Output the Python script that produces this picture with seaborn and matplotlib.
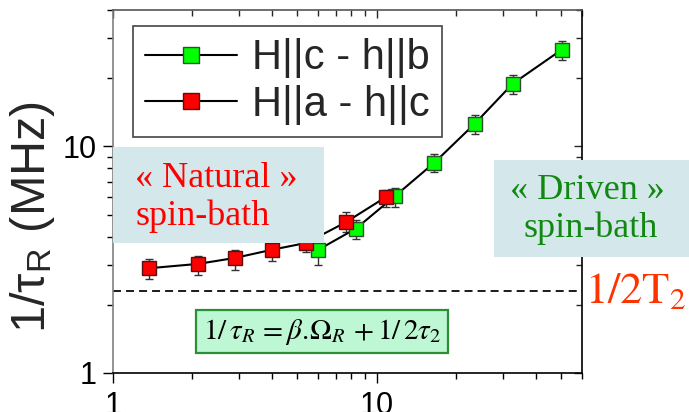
import numpy as np
import matplotlib
matplotlib.use("Agg")
import matplotlib.pyplot as plt
from matplotlib.patches import Rectangle
from matplotlib.ticker import FixedLocator, FuncFormatter, LogLocator, NullFormatter
import seaborn as sns

# ---- data -------------------------------------------------------------
# H||c - h||b  (driven regime)
green_x = [6.0, 8.33, 11.7, 16.5, 23.5, 32.7, 50.1]
green_y = [3.50, 4.34, 6.03, 8.47, 12.6, 18.9, 26.7]
green_lo = [3.00, 3.92, 5.41, 7.70, 11.4, 17.0, 24.0]
green_hi = [3.85, 4.75, 6.56, 9.22, 13.7, 20.6, 29.2]

# H||a - h||c  (natural regime)
red_x = [1.37, 2.10, 2.90, 4.01, 5.40, 7.61, 10.8]
red_y = [2.90, 3.03, 3.22, 3.50, 3.75, 4.62, 5.97]
red_lo = [2.61, 2.71, 2.86, 3.13, 3.41, 4.20, 5.41]
red_hi = [3.17, 3.30, 3.50, 3.81, 4.05, 5.12, 6.45]

half_T2 = 2.29          # 1/2T2 level (MHz)
series_labels = ["H||c - h||b", "H||a - h||c"]
x_ticks = [1, 10]
y_ticks = [1, 10]

# ---- style ------------------------------------------------------------
sns.set_theme(style="ticks")
plt.rcParams["font.family"] = ["Liberation Sans", "DejaVu Sans"]
plt.rcParams["mathtext.fontset"] = "stix"

fig = plt.figure(figsize=(6.89, 4.12), dpi=100)
ax = fig.add_axes([0.164, 0.0947, 0.681, 0.881])
ax.set_xscale("log")
ax.set_yscale("log")

# error bars first, markers on top
ax.errorbar(green_x, green_y,
            yerr=[np.subtract(green_y, green_lo), np.subtract(green_hi, green_y)],
            fmt="none", ecolor="#333333", elinewidth=1, capsize=3, capthick=1, zorder=2)
ax.errorbar(red_x, red_y,
            yerr=[np.subtract(red_y, red_lo), np.subtract(red_hi, red_y)],
            fmt="none", ecolor="#333333", elinewidth=1, capsize=3, capthick=1, zorder=2)

sns.lineplot(x=green_x, y=green_y, ax=ax, color="black", lw=1.5, marker="s",
             markersize=9.5, markerfacecolor="#00ff00", markeredgecolor="#2f4f2f",
             markeredgewidth=1, label=series_labels[0], zorder=3)
sns.lineplot(x=red_x, y=red_y, ax=ax, color="black", lw=1.5, marker="s",
             markersize=9.5, markerfacecolor="#ff0000", markeredgecolor="#5a1010",
             markeredgewidth=1, label=series_labels[1], zorder=3)

# 1/2T2 reference level
ax.axhline(half_T2, color="black", lw=1.25, ls=(0, (4.6, 2.9)), zorder=1)
ax.annotate(r"$\mathrm{1/2T_2}$", xy=(1.0, half_T2), xycoords=("axes fraction", "data"),
            xytext=(2, -8), textcoords="offset points", ha="left", va="baseline",
            fontsize=32, color="#ff3300", annotation_clip=False)

# ---- axes -------------------------------------------------------------
ax.set_xlim(1, 60)
ax.set_ylim(1, 40)
ax.xaxis.set_major_locator(FixedLocator(x_ticks))
ax.yaxis.set_major_locator(FixedLocator(y_ticks))
ax.xaxis.set_minor_locator(LogLocator(base=10, subs=np.arange(2, 10)))
ax.yaxis.set_minor_locator(LogLocator(base=10, subs=np.arange(2, 10)))
fmt = FuncFormatter(lambda v, _: f"{v:g}")
ax.xaxis.set_major_formatter(fmt)
ax.yaxis.set_major_formatter(fmt)
ax.xaxis.set_minor_formatter(NullFormatter())
ax.yaxis.set_minor_formatter(NullFormatter())
ax.tick_params(which="major", direction="out", length=7, width=1, labelsize=22,
               color="black", labelcolor="black")
ax.tick_params(which="minor", direction="out", length=4, width=1, color="black")
ax.tick_params(axis="x", which="major", pad=6)
ax.tick_params(axis="y", which="major", pad=5)

for side in ("top", "right", "bottom", "left"):
    ax.spines[side].set_visible(True)
    ax.spines[side].set_linewidth(1.2)
ax.spines["left"].set_color("#808080")
ax.spines["top"].set_color("#555555")
ax.spines["right"].set_color("black")
ax.spines["bottom"].set_color("black")

# inward mirror ticks on top and right
top = ax.secondary_xaxis("top")
top.xaxis.set_major_locator(FixedLocator(x_ticks))
top.xaxis.set_minor_locator(LogLocator(base=10, subs=np.arange(2, 10)))
top.tick_params(which="major", direction="in", length=6, width=1, labeltop=False)
top.tick_params(which="minor", direction="in", length=4, width=1)
top.xaxis.set_major_formatter(NullFormatter())
top.xaxis.set_minor_formatter(NullFormatter())
top.spines["top"].set_visible(False)
right = ax.secondary_yaxis("right")
right.yaxis.set_major_locator(FixedLocator(y_ticks))
right.yaxis.set_minor_locator(LogLocator(base=10, subs=np.arange(2, 10)))
right.tick_params(which="major", direction="in", length=6, width=1, labelright=False)
right.tick_params(which="minor", direction="in", length=4, width=1)
right.yaxis.set_major_formatter(NullFormatter())
right.yaxis.set_minor_formatter(NullFormatter())
right.spines["right"].set_visible(False)

ax.set_xlabel("")
ax.set_ylabel(r"1/τ$_\mathregular{R}$ (MHz)", fontsize=35)
ax.yaxis.set_label_coords(-0.12, 0.43)

# ---- legend -----------------------------------------------------------
leg = ax.legend(loc="upper left", bbox_to_anchor=(0.0426, 0.956), borderaxespad=0,
                fontsize=30, frameon=True, fancybox=False, framealpha=1,
                edgecolor="#444444", borderpad=0.3, labelspacing=0.15,
                handlelength=2.2, handletextpad=0.35, markerscale=1.15)
leg.get_frame().set_linewidth(1.2)
leg.set_zorder(6)

# ---- regime annotations -----------------------------------------------
ax.add_patch(Rectangle((0.0, 0.358), 0.450, 0.265, transform=ax.transAxes,
                       facecolor="#d4e8ec", edgecolor="none", zorder=4))
ax.text(0.047, 0.512, "« Natural »", transform=ax.transAxes, ha="left", va="baseline",
        fontsize=26, color="#ff0000", family="Liberation Serif", zorder=5)
ax.text(0.047, 0.408, "spin-bath", transform=ax.transAxes, ha="left", va="baseline",
        fontsize=26, color="#ff0000", family="Liberation Serif", zorder=5)

fig.patches.append(Rectangle((0.717, 0.376), 0.283, 0.236, transform=fig.transFigure,
                             facecolor="#d4e8ec", edgecolor="none", zorder=4))
fig.text(0.853, (412 - 199) / 412, "« Driven »", ha="center", va="baseline",
         fontsize=26, color="#118811", family="Liberation Serif", zorder=5)
fig.text(0.858, (412 - 237) / 412, "spin-bath", ha="center", va="baseline",
         fontsize=26, color="#118811", family="Liberation Serif", zorder=5)

ax.text(0.4456, 0.114, r"$1/\,\tau_R\, = \beta.\!\Omega_R\, + 1/\,2\tau_2$",
        transform=ax.transAxes, ha="center", va="center", fontsize=21, color="black",
        zorder=5,
        bbox=dict(boxstyle="square,pad=0.22", facecolor="#bdf7d4",
                  edgecolor="#2a8f36", linewidth=1.6))

fig.savefig("out.png", dpi=100)
